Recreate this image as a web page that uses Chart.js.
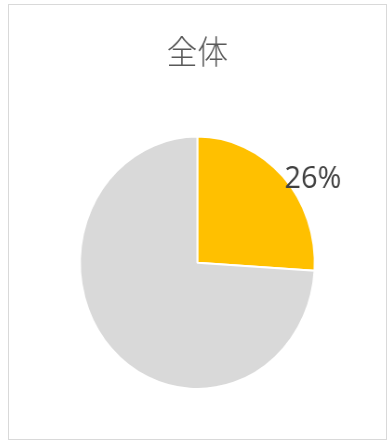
<!DOCTYPE html>
<html lang="ja">
<head>
<meta charset="utf-8">
<script src="https://cdn.jsdelivr.net/npm/chart.js@4"></script>
<style>
  html, body { margin: 0; padding: 0; background: #ffffff; }
  body { width: 388px; height: 441px; position: relative; overflow: hidden; }
  #frame {
    position: absolute; left: 8px; top: 4px;
    width: 377px; height: 434px;
    border: 1px solid #d9d9d9; background: #ffffff; overflow: hidden;
  }
  /* the chart is drawn slightly narrower than tall */
  #chart {
    position: absolute; left: 0; top: 0;
    transform: scaleX(0.93); transform-origin: 0 0;
  }
</style>
</head>
<body>
<div id="frame"><canvas id="chart" width="405" height="434"></canvas></div>
<script>
// share of respondents
const categories = ['該当', 'その他'];
const shares = [26, 74];
const sliceColors = ['#FFC000', '#D9D9D9'];
const chartTitle = '全体';
// only the first slice carries a percentage label
const labelledSlices = [0];

// writes the percentage just outside the upper-right rim of a slice
const sliceLabels = {
  id: 'sliceLabels',
  afterDatasetsDraw(chart) {
    const meta = chart.getDatasetMeta(0);
    const ctx = chart.ctx;
    const fontSize = 31;
    ctx.save();
    ctx.font = fontSize + 'px "Open Sans", "Liberation Sans", sans-serif';
    ctx.fillStyle = '#404040';
    ctx.textAlign = 'center';
    ctx.textBaseline = 'alphabetic';
    labelledSlices.forEach(i => {
      const arc = meta.data[i];
      const p = arc.getProps(['x', 'y', 'startAngle', 'endAngle', 'outerRadius'], true);
      const a = p.startAngle + 0.59 * (p.endAngle - p.startAngle);
      const r = p.outerRadius * 1.2;
      const x = p.x + Math.cos(a) * r;
      const y = p.y + Math.sin(a) * r + fontSize * 0.36;
      ctx.fillText(shares[i] + '%', x, y);
    });
    ctx.restore();
  }
};

new Chart(document.getElementById('chart'), {
  type: 'pie',
  data: {
    labels: categories,
    datasets: [{
      data: shares,
      backgroundColor: sliceColors,
      borderColor: '#ffffff',
      borderWidth: 2
    }]
  },
  options: {
    responsive: false,
    animation: false,
    layout: { padding: { top: 0, bottom: 49, left: 0, right: 0 } },
    plugins: {
      legend: { display: false },
      tooltip: { enabled: false },
      title: {
        display: true,
        text: chartTitle,
        color: '#595959',
        font: { family: '"Noto Sans CJK JP", sans-serif', size: 33, weight: '300', lineHeight: 1.2 },
        padding: { top: 27, bottom: 64 }
      }
    }
  },
  plugins: [sliceLabels]
});
</script>
</body>
</html>
